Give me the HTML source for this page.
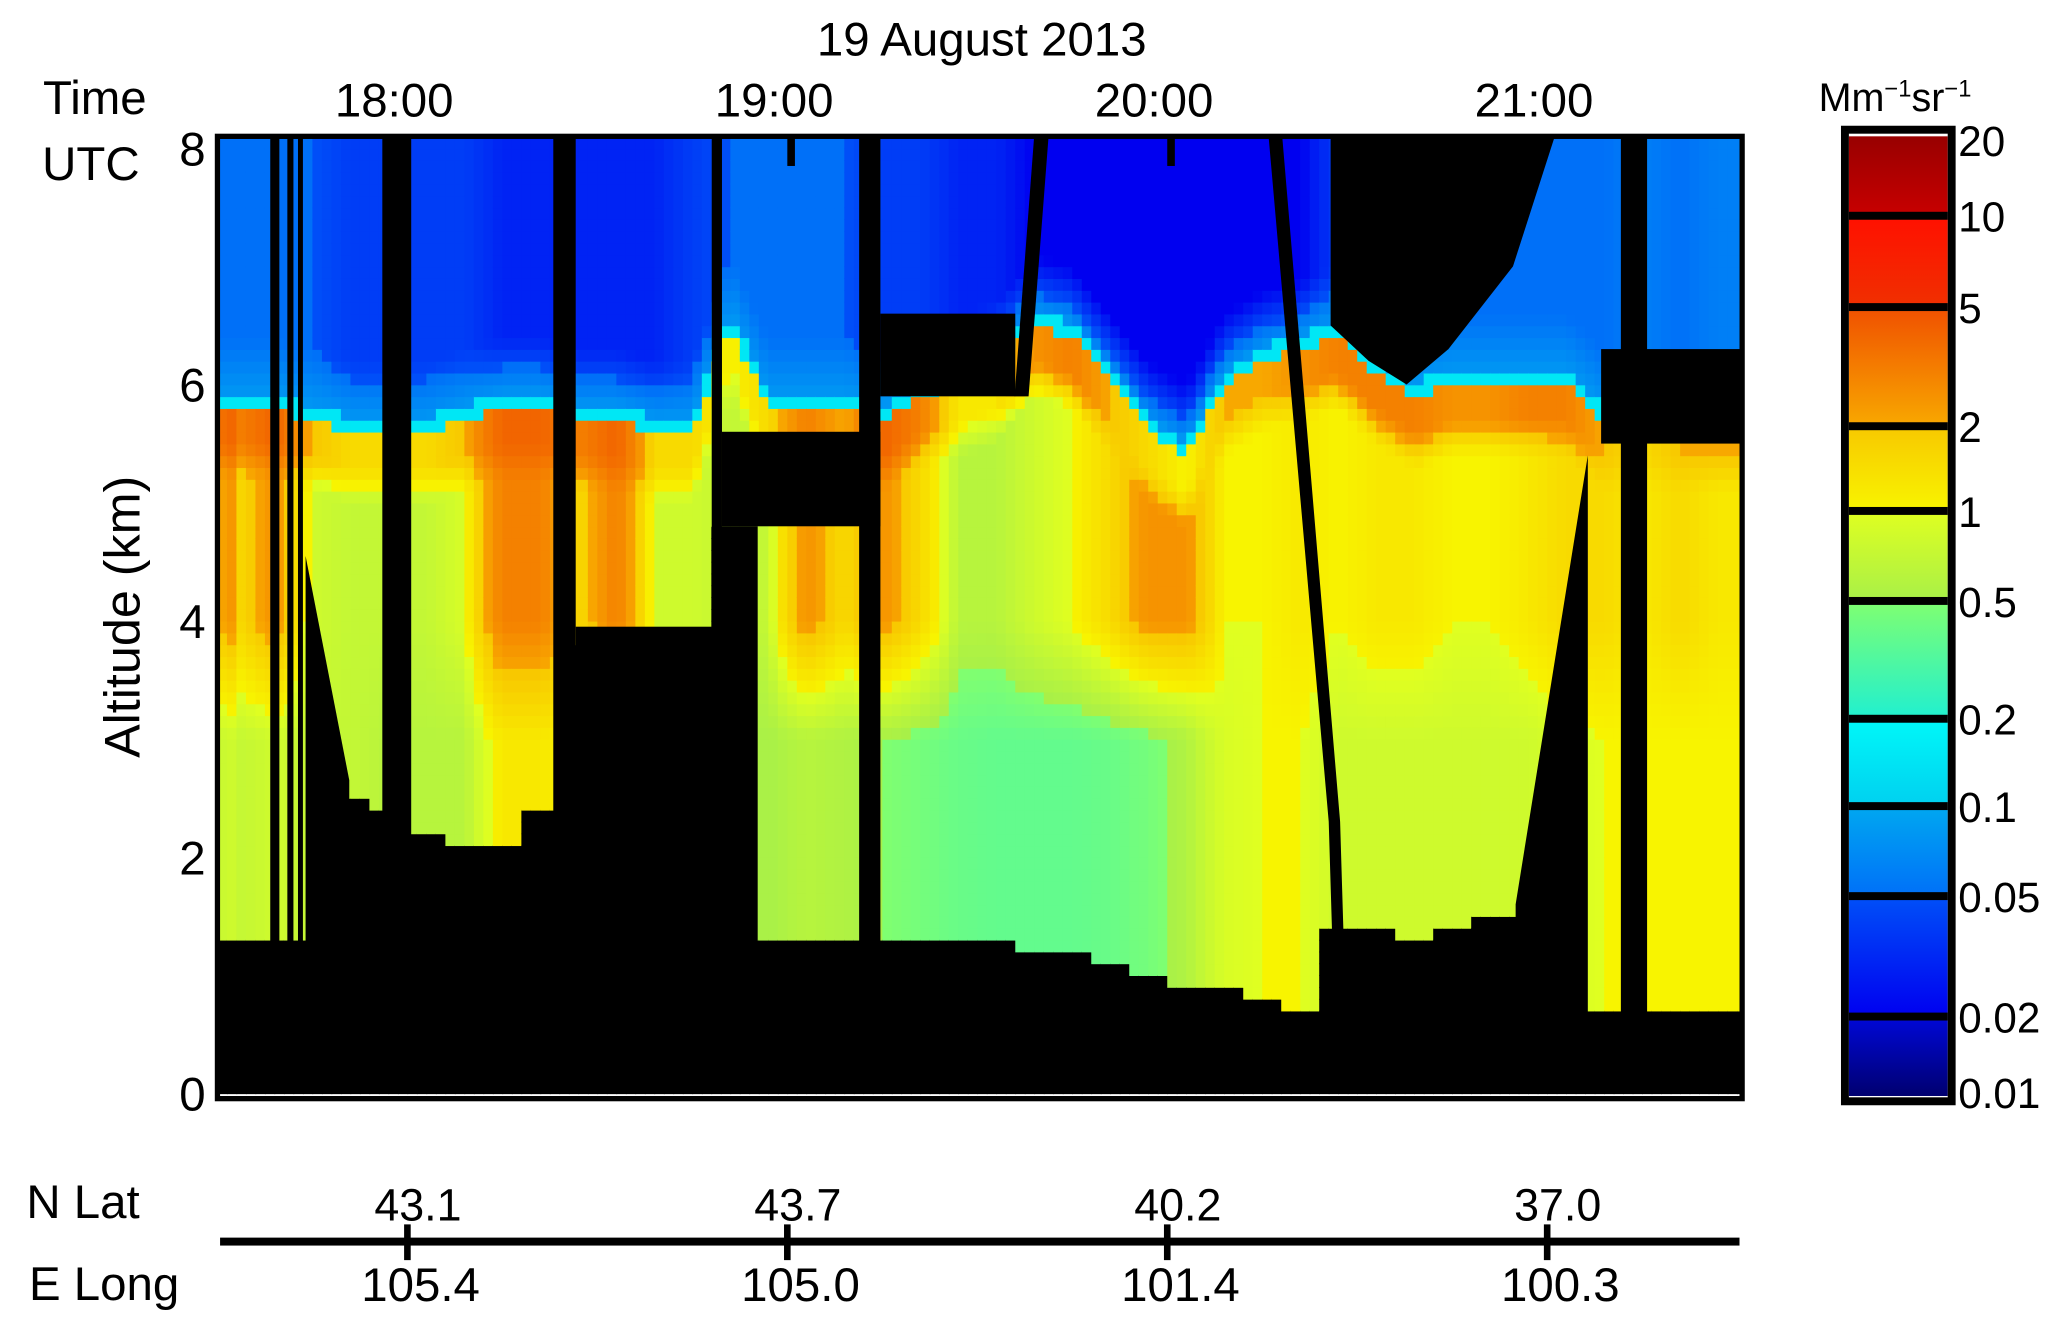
<!DOCTYPE html>
<html><head><meta charset="utf-8"><style>
html,body{margin:0;padding:0;background:#fff;}
svg{display:block;}
text{font-family:"Liberation Sans Narrow","Liberation Sans",sans-serif;fill:#000;}
</style></head><body>
<svg id="chart" xmlns="http://www.w3.org/2000/svg" width="2065" height="1323" viewBox="0 0 1567 999.5" preserveAspectRatio="none">
<defs><clipPath id="plotclip"><rect x="165" y="103" width="1157" height="727"/></clipPath></defs>
<g id="heat" clip-path="url(#plotclip)"></g>
<g id="masks" clip-path="url(#plotclip)"></g>
<rect x="165" y="103" width="1157" height="727" fill="none" stroke="#000" stroke-width="4"/>
<text x="745" y="42" font-size="36" text-anchor="middle">19 August 2013</text>
<text x="72" y="86" font-size="36" text-anchor="middle">Time</text>
<text x="69" y="136" font-size="36" text-anchor="middle">UTC</text>
<g id="xticks"></g>
<g id="yticks"></g>
<text transform="translate(106,466) rotate(-90)" font-size="38" text-anchor="middle">Altitude (km)</text>
<g id="cbar"></g>
<text x="1380" y="84" font-size="30">Mm<tspan dy="-11" font-size="18">−1</tspan><tspan dy="11">sr</tspan><tspan dy="-11" font-size="18">−1</tspan></text>
<text x="20" y="920" font-size="36">N Lat</text>
<text x="22" y="982" font-size="36">E Long</text>
<rect x="167" y="935" width="1153" height="6" fill="#000"/>
<g id="pos"></g>
</svg>
<script>
// ---- data ----
const timeTicks = [18, 19, 20, 21];
const timeLabels = ["18:00", "19:00", "20:00", "21:00"];
const altTicks = [0, 2, 4, 6, 8];
const latLabels = ["43.1", "43.7", "40.2", "37.0"];
const longLabels = ["105.4", "105.0", "101.4", "100.3"];
const cbLevels = [0.01, 0.02, 0.05, 0.1, 0.2, 0.5, 1, 2, 5, 10, 20];
const cbLabels = ["0.01", "0.02", "0.05", "0.1", "0.2", "0.5", "1", "2", "5", "10", "20"];
// per 0.1-h column starting 17.5 UTC
const colStart = 17.5;
const colStep = 0.1;
const surfaceKm = [1.4,1.4,1.4,2.6,2.5,2.3,2.2,2.2,2.5,3.9,3.9,3.9,3.9,4.8,1.4,1.4,1.3,1.4,1.3,1.3,1.3,1.2,1.2,1.1,1.0,0.95,0.9,0.85,0.75,1.5,1.5,1.4,1.5,1.6,1.6,1.5,0.75,0.75,0.75,0.75,0.75];
const layerTopKm = [5.8,5.8,5.7,5.6,5.6,5.6,5.7,5.8,5.8,5.7,5.7,5.6,5.6,6.5,5.8,5.8,5.8,5.7,5.9,6.0,6.1,6.5,6.4,6.0,5.6,5.4,6.0,6.2,6.3,6.4,6.1,5.9,6.0,6.0,6.0,6.0,5.7,5.7,5.7,5.7,5.7];
const lowVal = [0.7,0.8,0.7,0.7,0.6,0.6,0.6,1.2,1.2,1.0,1.0,0.7,0.7,0.6,0.5,0.6,0.55,0.5,0.45,0.4,0.38,0.38,0.38,0.4,0.45,0.55,0.9,1.0,1.0,0.8,0.8,0.8,0.8,0.8,0.8,0.9,1.0,1.0,1.0,1.0,1.0];
const midVal = [1.5,2.5,0.8,0.7,0.7,0.7,0.9,3.0,3.0,1.5,3.0,0.8,0.8,0.7,0.7,2.5,1.5,2.5,1.5,0.6,0.6,0.8,1.0,1.5,2.5,2.5,1.0,1.0,1.2,1.0,1.2,1.2,1.0,1.0,1.2,1.5,1.5,1.2,1.5,1.2,1.2];
const peakVal = [3,4,2,1.5,1.5,1.5,2,4,4,3,4,1.5,1.5,1,1.5,3,2,4,3,1.2,1.2,2.5,3,2,1.5,1,2,2,2.5,3,3,3,2.5,2.5,3,3,2,1.5,2,2,2];
const aloftVal = [0.05,0.05,0.05,0.04,0.04,0.04,0.04,0.03,0.03,0.03,0.03,0.03,0.04,0.05,0.05,0.05,0.05,0.04,0.04,0.03,0.03,0.02,0.02,0.02,0.02,0.02,0.02,0.02,0.02,0.04,0.05,0.05,0.05,0.05,0.05,0.05,0.05,0.06,0.05,0.06,0.06];
// masks: [t0, t1, km0, km1]
const maskBoxes = [[17.639,17.663,0,8.2],[17.684,17.700,0,8.2],[17.712,17.725,0,8.2],[17.934,18.010,0,8.2],[18.384,18.443,0,8.2],[18.443,18.828,0,3.95],[18.801,18.828,0,8.2],[18.828,18.922,0,4.8],[18.828,19.245,4.8,5.6],[19.189,19.245,0,8.2],[19.245,19.6,5.9,6.6],[21.142,21.55,5.5,6.3],[21.194,21.263,0,8.2],[19.0,19.02,7.85,8.2],[20.0,20.02,7.85,8.2]];
const maskPolys = [
 [[17.732,4.55],[17.847,2.65],[17.847,0],[17.732,0]],
 [[19.598,5.9],[19.652,8.2],[19.69,8.2],[19.635,5.9]],
 [[20.264,8.2],[20.30,8.2],[20.455,2.3],[20.47,0.7],[20.44,0.7],[20.425,2.3]],
 [[20.43,8.2],[20.43,6.5],[20.53,6.2],[20.63,6.0],[20.74,6.3],[20.91,7.0],[21.02,8.1],[21.02,8.2]],
 [[20.917,1.6],[21.107,5.4],[21.107,0],[20.917,0]]
];
// ---- scales ----
const NS = "http://www.w3.org/2000/svg";
function xS(t){ return 165 + (t - 17.5) * 288.3; }
function yS(km){ return 826 - km * 89.25; }
const cbY = [828,768,677,609,543,454,386,322,232,163,103];
const bandColors = [["#000070","#0008d8"],["#0000f0","#0050f8"],["#0070f8","#00a8f0"],["#00d0f0","#00f8f8"],["#20f0d0","#80ff70"],["#a8f048","#e0ff20"],["#f8f400","#f8c800"],["#f8a800","#f05000"],["#f03000","#ff1000"],["#c80000","#980000"]];
function hex(c){return [parseInt(c.slice(1,3),16),parseInt(c.slice(3,5),16),parseInt(c.slice(5,7),16)];}
function colorOf(v){
  v = Math.max(cbLevels[0], Math.min(cbLevels[10]*0.999, v));
  let k = 0; while (k < 9 && v >= cbLevels[k+1]) k++;
  const f = (Math.log(v) - Math.log(cbLevels[k])) / (Math.log(cbLevels[k+1]) - Math.log(cbLevels[k]));
  const a = hex(bandColors[k][0]), b = hex(bandColors[k][1]);
  return "rgb(" + a.map((x,i)=>Math.round(x + (b[i]-x)*f)).join(",") + ")";
}
function lerpLog(a,b,f){ return Math.exp(Math.log(a) + (Math.log(b)-Math.log(a))*f); }
function mix(arr, i, f){ const j = Math.min(arr.length-1, i+1); return arr[i] + (arr[j]-arr[i])*f; }
function profile(i, f, z){
  const top = mix(layerTopKm, i, f), lo = mix(lowVal, i, f), mid = mix(midVal, i, f), pk = mix(peakVal, i, f), al = mix(aloftVal, i, f);
  if (z < 3) return lo;
  if (z < 4) return lerpLog(lo, mid, z-3);
  if (z < top-0.6) return mid;
  if (z < top) return lerpLog(mid, pk, Math.min(1,(z-(top-0.6))/0.3));
  if (z < top+0.12) return 0.15;
  if (z < top+0.6) return lerpLog(0.08, al, (z-top-0.12)/0.48);
  return al;
}
// ---- heatmap ----
const heat = document.getElementById("heat");
const dz = 0.1, subs = 4;
for (let i = 0; i < surfaceKm.length; i++) {
  for (let s = 0; s < subs; s++) {
    const t0 = colStart + i*colStep + s*colStep/subs, t1 = t0 + colStep/subs;
    const f = (s + 0.5)/subs - 0.5;
    const ii = f < 0 ? Math.max(0, i-1) : i, ff = f < 0 ? 1 + f : f;
    for (let z = 0; z < 8.2; z += dz) {
      const r = document.createElementNS(NS, "rect");
      r.setAttribute("x", xS(t0)); r.setAttribute("width", xS(t1)-xS(t0)+0.6);
      r.setAttribute("y", yS(z+dz)); r.setAttribute("height", yS(z)-yS(z+dz)+0.6);
      r.setAttribute("fill", z + dz <= surfaceKm[i] ? "#000" : colorOf(profile(ii, ff, z+dz/2)));
      
      
      heat.appendChild(r);
    }
  }
}
// ---- masks ----
const masks = document.getElementById("masks");
maskBoxes.forEach(b => {
  const r = document.createElementNS(NS, "rect");
  r.setAttribute("x", xS(b[0])); r.setAttribute("width", xS(b[1])-xS(b[0]));
  r.setAttribute("y", yS(b[3])); r.setAttribute("height", yS(b[2])-yS(b[3]));
  r.setAttribute("fill", "#000");
  
  
  masks.appendChild(r);
});
maskPolys.forEach(p => {
  const g = document.createElementNS(NS, "polygon");
  g.setAttribute("points", p.map(q => xS(q[0]) + "," + yS(q[1])).join(" "));
  g.setAttribute("fill", "#000");
  
  
  masks.appendChild(g);
});
// ---- axes ----
const xt = document.getElementById("xticks");
timeTicks.forEach((t, k) => {
  const tx = document.createElementNS(NS, "text");
  tx.setAttribute("x", xS(t) - 10); tx.setAttribute("y", 88);
  tx.setAttribute("font-size", "36"); tx.setAttribute("text-anchor", "middle");
  tx.textContent = timeLabels[k];
  
  
  xt.appendChild(tx);
});
const yt = document.getElementById("yticks");
altTicks.forEach(a => {
  const tx = document.createElementNS(NS, "text");
  tx.setAttribute("x", 146); tx.setAttribute("y", yS(a) + 13);
  tx.setAttribute("font-size", "36"); tx.setAttribute("text-anchor", "middle");
  tx.textContent = String(a);
  
  
  yt.appendChild(tx);
});
const pos = document.getElementById("pos");
timeTicks.forEach((t, k) => {
  const x = xS(t);
  const tk = document.createElementNS(NS, "rect");
  tk.setAttribute("x", x-2.5); tk.setAttribute("y", 925); tk.setAttribute("width", 5); tk.setAttribute("height", 27);
  tk.setAttribute("fill", "#000");
  
  
  pos.appendChild(tk);
  const la = document.createElementNS(NS, "text");
  la.setAttribute("x", x + 8); la.setAttribute("y", 922); la.setAttribute("font-size", "34"); la.setAttribute("text-anchor", "middle");
  la.textContent = latLabels[k];
  
  
  pos.appendChild(la);
  const lo = document.createElementNS(NS, "text");
  lo.setAttribute("x", x + 10); lo.setAttribute("y", 983); lo.setAttribute("font-size", "36"); lo.setAttribute("text-anchor", "middle");
  lo.textContent = longLabels[k];
  
  
  pos.appendChild(lo);
});
// ---- colorbar ----
const cb = document.getElementById("cbar");
const defs = document.querySelector("defs");
for (let k = 0; k < 10; k++) {
  const gid = "cbg" + k;
  const lg = document.createElementNS(NS, "linearGradient");
  lg.setAttribute("id", gid); lg.setAttribute("x1", 0); lg.setAttribute("y1", 1); lg.setAttribute("x2", 0); lg.setAttribute("y2", 0);
  [[0, bandColors[k][0]], [1, bandColors[k][1]]].forEach(s => {
    const st = document.createElementNS(NS, "stop");
    st.setAttribute("offset", s[0]); st.setAttribute("stop-color", s[1]);
    lg.appendChild(st);
  });
  defs.appendChild(lg);
  const r = document.createElementNS(NS, "rect");
  r.setAttribute("x", 1403); r.setAttribute("width", 75);
  r.setAttribute("y", cbY[k+1]); r.setAttribute("height", cbY[k]-cbY[k+1]);
  r.setAttribute("fill", "url(#" + gid + ")");
  
  
  cb.appendChild(r);
}
for (let k = 0; k < cbLevels.length; k++) {
  if (k > 0 && k < 10) {
    const ln = document.createElementNS(NS, "rect");
    ln.setAttribute("x", 1403); ln.setAttribute("width", 75); ln.setAttribute("y", cbY[k]-3); ln.setAttribute("height", 6);
    ln.setAttribute("fill", "#000");
    
    
    cb.appendChild(ln);
  }
  const tx = document.createElementNS(NS, "text");
  tx.setAttribute("x", 1486); tx.setAttribute("y", cbY[k] + 12 - (k === 10 ? -3 : 0) - (k === 0 ? 3 : 0));
  tx.setAttribute("font-size", "32");
  tx.textContent = cbLabels[k];
  
  
  cb.appendChild(tx);
}
const fr = document.createElementNS(NS, "rect");
fr.setAttribute("x", 1400); fr.setAttribute("y", 98); fr.setAttribute("width", 81); fr.setAttribute("height", 734);
fr.setAttribute("fill", "none"); fr.setAttribute("stroke", "#000"); fr.setAttribute("stroke-width", 6);


cb.appendChild(fr);
</script>
</body></html>
